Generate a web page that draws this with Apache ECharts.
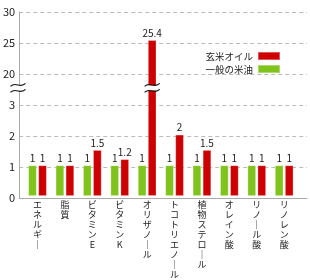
<!DOCTYPE html>
<html><head><meta charset="utf-8">
<script src="https://cdn.jsdelivr.net/npm/echarts@6/dist/echarts.min.js"></script>
<style>html,body{margin:0;padding:0;background:#fff}#c{width:310px;height:280px}</style>
</head><body><div id="c"></div>
<script>
const categories = ['エネルギー','脂質','ビタミンE','ビタミンK','オリザノール','トコトリエノール','植物ステロール','オレイン酸','リノール酸','リノレン酸'];
const genmaiOil = [1, 1, 1.5, 1.2, 25.4, 2, 1.5, 1, 1, 1];
const normalRiceOil = [1, 1, 1, 1, 1, 1, 1, 1, 1, 1];
const yTickLabels = [0, 1, 2, 3, 20, 25, 30];
const seriesNames = ['玄米オイル', '一般の米油'];
const breakLow = 3, breakHigh = 15, upperScale = 5;

function toAxis(v){ return v <= breakLow ? v : breakLow + (v - breakHigh) / upperScale; }
const FONT = '"Noto Sans CJK JP", "Noto Sans", sans-serif';
const RED = '#cc0000', GREEN = '#7fc31c';
const GRID_TOP = 12, GRID_BOTTOM = 82;
const yMax = toAxis(yTickLabels[yTickLabels.length - 1]);

function mk(arr){ return arr.map(v => ({ value: toAxis(v), raw: v })); }

const chart = echarts.init(document.getElementById('c'), null, { renderer: 'canvas' });
const labelCfg = {
  show: true, position: 'top', distance: 2, fontSize: 10, color: '#222', fontFamily: FONT,
  formatter: p => String(p.data.raw)
};
chart.setOption({
  animation: false,
  textStyle: { fontFamily: FONT },
  legend: {
    data: seriesNames, orient: 'vertical', right: 24, top: 46, align: 'right',
    itemWidth: 22, itemHeight: 8, itemGap: 3, icon: 'rect',
    textStyle: { fontSize: 9.5, color: '#222', fontFamily: FONT, padding: [0, 0, 0, 0] }
  },
  grid: [
    { left: 18, right: 3, top: GRID_TOP, bottom: GRID_BOTTOM },
    { left: 23.8, right: 12.1, top: GRID_TOP, bottom: GRID_BOTTOM }
  ],
  xAxis: [
    { type: 'category', gridIndex: 0, data: [''], axisLine: { lineStyle: { color: '#aaa', width: 1 } },
      axisTick: { show: false }, axisLabel: { show: false }, splitLine: { show: false } },
    { type: 'category', gridIndex: 1, data: categories, axisLine: { show: false }, axisTick: { show: false },
      axisLabel: { interval: 0, margin: 4, fontSize: 9, lineHeight: 10, color: '#222', fontFamily: FONT,
        formatter: name => name.split('').map(c => c === 'ー' ? '｜' : c).join('\n') } }
  ],
  yAxis: [
    { type: 'value', gridIndex: 0, min: 0, max: yMax, interval: 1,
      axisLine: { show: true, lineStyle: { color: '#aaa', width: 1 } }, axisTick: { show: false },
      axisLabel: { margin: 4, fontSize: 11, color: '#222', fontFamily: FONT,
        formatter: val => { const t = yTickLabels.find(x => Math.abs(toAxis(x) - val) < 1e-6); return t === undefined ? '' : String(t); } },
      splitLine: { show: true, lineStyle: { color: '#bbb', type: [4, 3], width: 1 } } },
    { type: 'value', gridIndex: 1, min: 0, max: yMax, interval: 1, show: false, splitLine: { show: false } }
  ],
  series: [
    { name: seriesNames[1], type: 'bar', xAxisIndex: 1, yAxisIndex: 1, data: mk(normalRiceOil),
      barWidth: 8.5, barGap: '18%', itemStyle: { color: GREEN, borderColor: 'rgba(255,255,255,0.35)', borderWidth: 0.8 },
      label: labelCfg },
    { name: seriesNames[0], type: 'bar', xAxisIndex: 1, yAxisIndex: 1, data: mk(genmaiOil),
      barWidth: 8.5, barGap: '18%', itemStyle: { color: RED, borderColor: 'rgba(255,255,255,0.35)', borderWidth: 0.8 },
      label: labelCfg }
  ]
});

// break marks
const breakAxisVal = 3.55;
function breakMark(cx, cy, w) {
  const h = w / 2;
  const curve = dy => ({ type: 'bezierCurve', shape: { x1: cx - h, y1: cy + dy + 1.5, cpx1: cx - h / 3, cpy1: cy + dy - 4, cpx2: cx + h / 3, cpy2: cy + dy + 4, x2: cx + h, y2: cy + dy - 1.5 },
    style: { stroke: '#111', lineWidth: 1.1, fill: null }, z: 101 });
  return [
    { type: 'rect', shape: { x: cx - h + 2, y: cy - 2.5, width: w - 4, height: 5 }, style: { fill: '#fff' }, z: 100 },
    curve(-3), curve(3)
  ];
}
const yPix = chart.convertToPixel({ yAxisIndex: 0 }, breakAxisVal);
const idx = genmaiOil.findIndex(v => v > breakLow);
const barCenter = chart.convertToPixel({ xAxisIndex: 1 }, categories[idx]) + 5;
chart.setOption({ graphic: [...breakMark(18, yPix, 15), ...breakMark(barCenter, yPix, 15)] });
</script></body></html>
